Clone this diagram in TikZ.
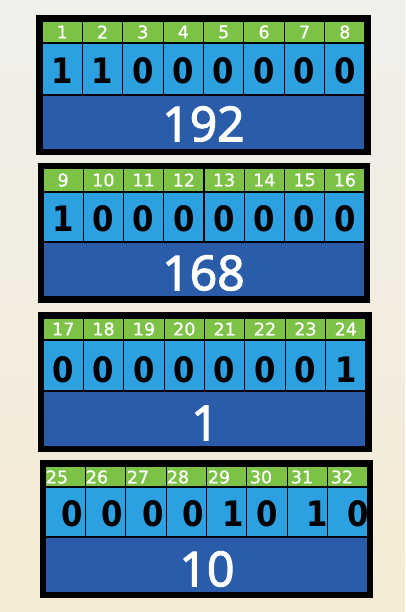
\documentclass[tikz,border=0pt]{standalone}
\usepackage{fontspec}
\setmainfont{DejaVu Sans}
\newfontfamily\valfont[FakeBold=2.6]{Open Sans}
\newfontfamily\labfont[FakeBold=0.8]{DejaVu Sans}
\newfontfamily\bitfont[FakeStretch=0.88]{DejaVu Sans}
\usepackage{tikz}
\usetikzlibrary{positioning}
\definecolor{octetpaper}{RGB}{240, 239, 235}
\definecolor{octetcream}{RGB}{245, 235, 212}
\definecolor{octetgreen}{RGB}{124, 194, 70}
\definecolor{octetblue}{RGB}{44, 160, 224}
\definecolor{octetnavy}{RGB}{42, 92, 170}

\begin{document}
\begin{tikzpicture}[
    x=1pt, y=-1pt,
    every node/.style={inner sep=0pt, outer sep=0pt},
    greencell/.style={fill=octetgreen, draw=black, line width=1.2pt},
    bluecell/.style={fill=octetblue, draw=black, line width=1.2pt},
    navycell/.style={fill=octetnavy, draw=black, line width=1.2pt},
    labtext/.style={text=white, font=\fontsize{17.5}{17.5}\selectfont\labfont},
    bittext/.style={text=black, font=\fontsize{35}{35}\selectfont\bitfont\bfseries},
    valtext/.style={text=white, font=\fontsize{48}{48}\selectfont\valfont}
]

% Background
\shade[top color=octetpaper, bottom color=octetcream] (0,0) rectangle (405,612);

% Octet 1
\fill[black] (36,15) rectangle (371,155);
\foreach \i/\b [evaluate=\i as \x using 42+(\i-1)*40.375] in {1/1,2/1,3/0,4/0,5/0,6/0,7/0,8/0} {
    \draw[greencell] (\x,21) rectangle ++(40.375,22);
    \node[labtext] (na\i) at (\x+20.2,32) {\i};
    \draw[bluecell] (\x,43) rectangle ++(40.375,52);
    \node[bittext] (ba\i) at (\x+20.2,71) {\b};
}
\draw[navycell] (42,95) rectangle (365,150);
\node[valtext] (va) at (203.5,124) {192};

% Octet 2
\fill[black] (38,163) rectangle (370,303);
\foreach \i/\b [evaluate=\i as \x using 43+(\i-1)*40.25] in {1/1,2/0,3/0,4/0,5/0,6/0,7/0,8/0} {
    \pgfmathtruncatemacro\n{\i+8}
    \draw[greencell] (\x,168) rectangle ++(40.25,24);
    \node[labtext] (nb\i) at (\x+20.1,180) {\n};
    \draw[bluecell] (\x,192) rectangle ++(40.25,50);
    \node[bittext] (bb\i) at (\x+20.1,219) {\b};
}
\draw[navycell] (43,242) rectangle (365,297);
\node[valtext] (vb) at (203.5,273) {168};

% Octet 3
\fill[black] (38,312) rectangle (372,452);
\foreach \i/\b [evaluate=\i as \x using 43+(\i-1)*40.375] in {1/0,2/0,3/0,4/0,5/0,6/0,7/0,8/1} {
    \pgfmathtruncatemacro\n{\i+16}
    \draw[greencell] (\x,318) rectangle ++(40.375,22);
    \node[labtext] (nc\i) at (\x+20.2,329) {\n};
    \draw[bluecell] (\x,340) rectangle ++(40.375,51);
    \node[bittext] (bc\i) at (\x+20.2,370) {\b};
}
\draw[navycell] (43,391) rectangle (366,447);
\node[valtext] (vc) at (205,423) {1};

% Octet 4 (text slips out of its cells)
\fill[black] (40,460) rectangle (373,598);
\foreach \i [evaluate=\i as \x using 45+(\i-1)*40.375] in {1,...,8} {
    \draw[greencell] (\x,466) rectangle ++(40.375,21);
    \draw[bluecell] (\x,487) rectangle ++(40.375,50);
}
\foreach \i/\n/\xn/\b/\xb in {1/25/57/0/72, 2/26/97/0/112, 3/27/138/0/153, 4/28/178/0/193,
                             5/29/219/1/233, 6/30/261/0/267, 7/31/302/1/317, 8/32/342/0/358} {
    \node[labtext] (nd\i) at (\xn,477) {\n};
    \node[bittext] (bd\i) at (\xb,514) {\b};
}
\draw[navycell] (45,537) rectangle (368,593);
\node[valtext] (vd) at (207,569) {10};

\end{tikzpicture}
\end{document}
